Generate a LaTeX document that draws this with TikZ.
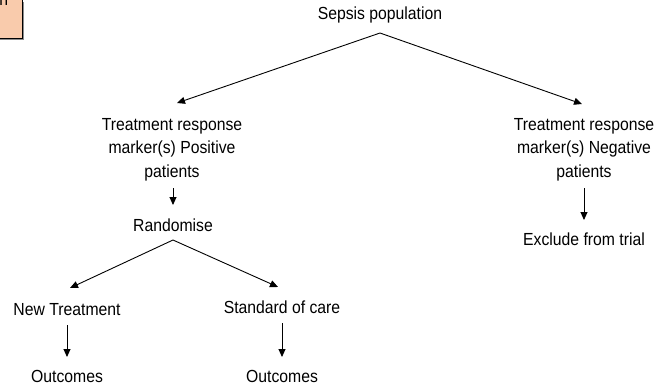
\documentclass[tikz,border=0pt]{standalone}
\usepackage{fontspec}
\setmainfont{Liberation Sans}[FakeStretch=0.9]
\usetikzlibrary{arrows.meta,calc}
\definecolor{peach}{RGB}{249,203,172}
\definecolor{shadowgray}{RGB}{140,140,140}
\begin{document}
\begin{tikzpicture}[x=1pt,y=-1pt,
  lbl/.style={inner sep=0pt,anchor=base,align=center,font=\fontsize{17.5}{23.5}\selectfont},
  arr/.style={line width=0.9pt,-{Triangle[length=8pt,width=7pt]}}]
\useasboundingbox (0,0) rectangle (659,389);
% corner box
\fill[shadowgray] (0,2) rectangle (24,40);
\filldraw[fill=peach,draw=black,line width=1pt] (-3,-3) rectangle (22,38);
\node[lbl,anchor=base west] (frag) at (-0.8,5) {n};
% nodes
\node[lbl] (sepsis) at (380,19) {Sepsis population};
\node[lbl] (pos) at (172,177) {Treatment response\\marker(s) Positive\\patients};
\node[lbl] (neg) at (584,177) {Treatment response\\marker(s) Negative\\patients};
\node[lbl] (rand) at (173,231) {Randomise};
\node[lbl] (excl) at (584,245) {Exclude from trial};
\node[lbl] (newt) at (67,315) {New Treatment};
\node[lbl] (std) at (282,313) {Standard of care};
\node[lbl] (out1) at (67,382) {Outcomes};
\node[lbl] (out2) at (282,382) {Outcomes};
% split points
\coordinate (apex1) at ($(sepsis.base)+(0,14)$);
\coordinate (tipP) at ($(pos.base)+(5,-74)$);
\coordinate (tipN) at ($(neg.base)+(-2,-73)$);
\coordinate (apex2) at ($(rand.base)+(0,9)$);
\coordinate (tipNT) at ($(newt.base)+(3,-27)$);
\coordinate (tipSC) at ($(std.base)+(-4,-26)$);
% connectors
\draw[arr] (apex1) -- (tipP);
\draw[arr] (apex1) -- (tipN);
\draw[arr] ($(pos.base)+(1,11)$) -- ($(rand.base)+(0,-26)$);
\draw[arr] ($(neg.base)+(0,11)$) -- ($(excl.base)+(0,-25)$);
\draw[arr] (apex2) -- (tipNT);
\draw[arr] (apex2) -- (tipSC);
\draw[arr] ($(newt.base)+(0,10)$) -- ($(out1.base)+(0,-25)$);
\draw[arr] ($(std.base)+(0,10)$) -- ($(out2.base)+(0,-25)$);
\end{tikzpicture}
\end{document}
